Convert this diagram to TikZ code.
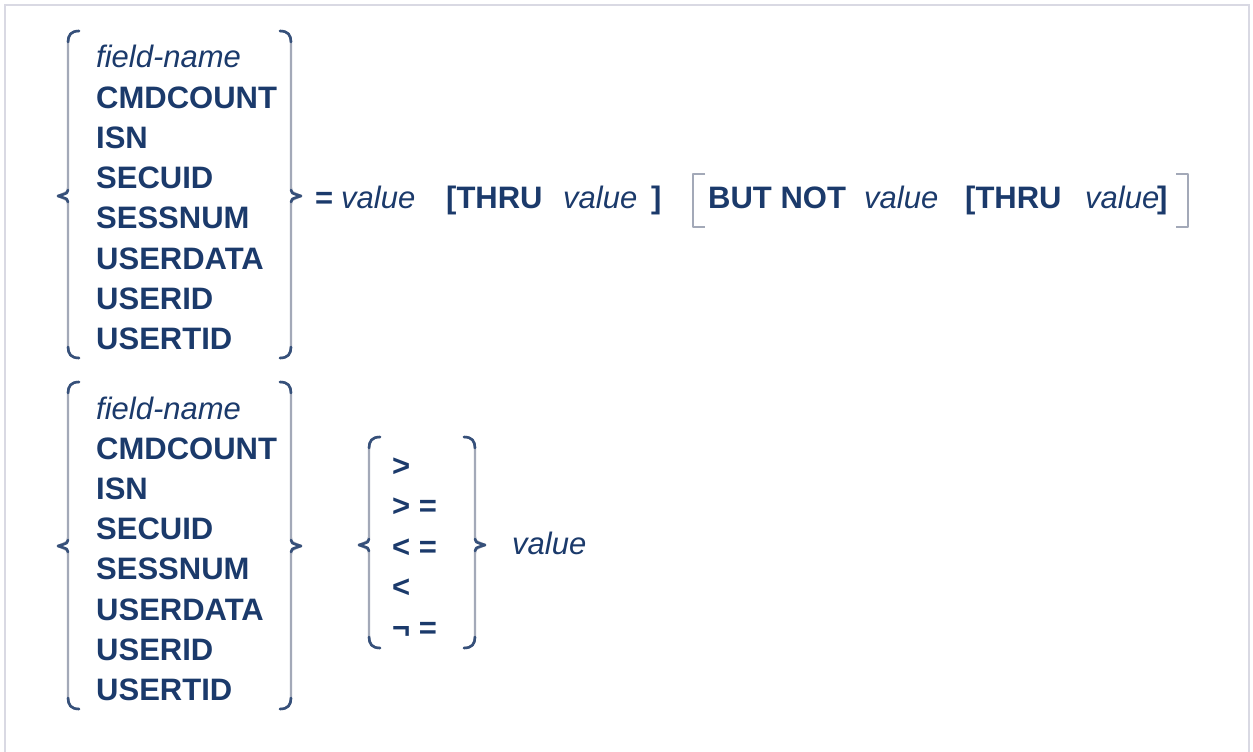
\documentclass[tikz,border=0pt]{standalone}
\usepackage{fontspec}
\setmainfont{Liberation Sans}
\definecolor{navy}{HTML}{1B3A6B}
\definecolor{bracegray}{HTML}{A3A9B8}
\definecolor{framegray}{HTML}{D9D9E3}
\tikzset{
  t/.style={anchor=base west, inner sep=0pt, text=navy, font=\fontsize{31}{37}\selectfont},
  kw/.style={t, font=\fontsize{31}{37}\selectfont\bfseries},
  var/.style={t, font=\fontsize{31}{37}\selectfont\itshape},
  brace/.style={draw=bracegray, line width=2.4pt, line cap=round, line join=round},
  tip/.style={draw=navy!80!bracegray, line width=2.6pt, line cap=round, line join=round},
  bracket/.style={draw=bracegray, line width=2.4pt, line join=round}
}
% left brace: x, top, bottom, mid
\newcommand{\myLB}[4]{%
  \draw[brace] (#1+11,#2) .. controls (#1+3,#2) and (#1,#2+4) .. (#1,#2+13) -- (#1,#4-9)
     .. controls (#1,#4-4) .. (#1-10,#4) .. controls (#1,#4+4) .. (#1,#4+9) -- (#1,#3-13)
     .. controls (#1,#3-4) and (#1+3,#3) .. (#1+11,#3);
  \draw[tip] (#1+11,#2) .. controls (#1+3,#2) and (#1,#2+4) .. (#1,#2+11);
  \draw[tip] (#1,#3-11) .. controls (#1,#3-4) and (#1+3,#3) .. (#1+11,#3);
  \draw[tip] (#1,#4-6) .. controls (#1,#4-3) .. (#1-10,#4) .. controls (#1,#4+3) .. (#1,#4+6);
}
% right brace: x, top, bottom, mid
\newcommand{\myRB}[4]{%
  \draw[brace] (#1-11,#2) .. controls (#1-3,#2) and (#1,#2+4) .. (#1,#2+13) -- (#1,#4-9)
     .. controls (#1,#4-4) .. (#1+10,#4) .. controls (#1,#4+4) .. (#1,#4+9) -- (#1,#3-13)
     .. controls (#1,#3-4) and (#1-3,#3) .. (#1-11,#3);
  \draw[tip] (#1-11,#2) .. controls (#1-3,#2) and (#1,#2+4) .. (#1,#2+11);
  \draw[tip] (#1,#3-11) .. controls (#1,#3-4) and (#1-3,#3) .. (#1-11,#3);
  \draw[tip] (#1,#4-6) .. controls (#1,#4-3) .. (#1+10,#4) .. controls (#1,#4+3) .. (#1,#4+6);
}
\begin{document}
\begin{tikzpicture}[x=1pt,y=-1pt]
\useasboundingbox (0,0) rectangle (1253,752);
\fill[white] (0,0) rectangle (1253,752);
% frame (no bottom edge)
\draw[framegray, line width=2pt] (5,752) -- (5,5) -- (1249,5) -- (1249,752);

% ---- first syntax group ----
\node[var] (f1) at (96,68) {field-name};
\foreach \w [count=\i from 0] in {CMDCOUNT,ISN,SECUID,SESSNUM,USERDATA,USERID,USERTID}
  \node[kw] (a\i) at (96,108+40.33*\i) {\w};
\myLB{68}{31}{358}{196}
\myRB{291}{31}{358}{196}

\node[kw] (eq) at (315,208) {=};
\node[var] (v1) at (341,208) {value};
\node[kw] (th1) at (446,208) {[THRU};
\node[var] (v2) at (563,208) {value};
\node[kw] (cb1) at (651,208) {]};
\draw[bracket] (705,174) -- (693,174) -- (693,227) -- (705,227);
\node[kw] (bn) at (708,208) {BUT NOT};
\node[var] (v3) at (864,208) {value};
\node[kw] (th2) at (965,208) {[THRU};
\node[var] (v4) at (1085,208) {value};
\node[kw] (cb2) at (1157,208) {]};
\draw[bracket] (1176,174) -- (1188,174) -- (1188,227) -- (1176,227);

% ---- second syntax group ----
\node[var] (f2) at (96,419) {field-name};
\foreach \w [count=\i from 0] in {CMDCOUNT,ISN,SECUID,SESSNUM,USERDATA,USERID,USERTID}
  \node[kw] (b\i) at (96,459+40.33*\i) {\w};
\myLB{68}{382}{709}{546}
\myRB{291}{382}{709}{546}

\foreach \s [count=\i from 0] in {>,> =,< =,<,¬ =}
  \node[kw] (s\i) at (392,476+40.5*\i) {\s};
\myLB{369}{437}{648}{545}
\myRB{475}{437}{648}{545}
\node[var] (v5) at (512,554) {value};
\end{tikzpicture}
\end{document}
